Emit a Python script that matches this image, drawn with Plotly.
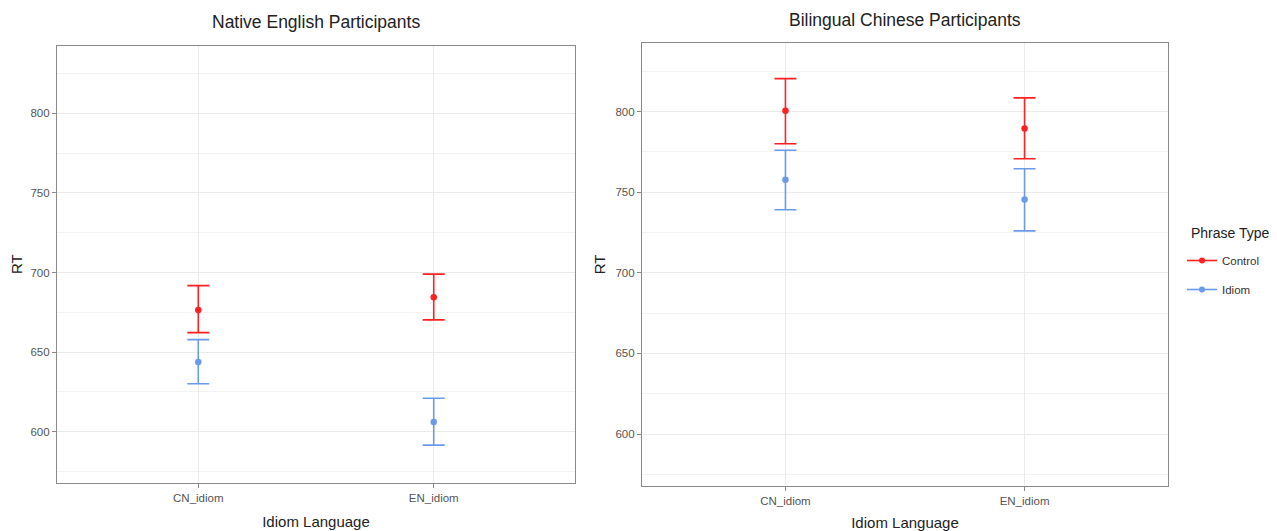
import plotly.graph_objects as go

categories = ["CN_idiom", "EN_idiom"]
phrase_types = ["Control", "Idiom"]
colors = {"Control": "#FF2020", "Idiom": "#6A9AEA"}

# Native English participants
native_mean = {"Control": [676.5, 684.5], "Idiom": [643.8, 606.1]}
native_upper = {"Control": [691.8, 699.0], "Idiom": [657.9, 621.0]}
native_lower = {"Control": [662.3, 670.3], "Idiom": [630.2, 591.6]}

# Bilingual Chinese participants
biling_mean = {"Control": [800.5, 789.5], "Idiom": [757.7, 745.5]}
biling_upper = {"Control": [820.4, 808.5], "Idiom": [776.0, 764.5]}
biling_lower = {"Control": [780.0, 770.7], "Idiom": [739.1, 726.0]}

y_ticks = [600, 650, 700, 750, 800]
y_minor = [575, 625, 675, 725, 775, 825]
y_range = [568, 842.5]

panels = [
    ("Native English Participants", native_mean, native_upper, native_lower, "x", "y"),
    ("Bilingual Chinese Participants", biling_mean, biling_upper, biling_lower, "x2", "y2"),
]

W, H = 1269, 523  # page body has an 8px margin inside the 1277x531 window
FONT = "Liberation Sans, Arial, Helvetica, sans-serif"
fig = go.Figure()

for title, mean, upper, lower, xa, ya in panels:
    for pt in phrase_types:
        plus = [u - m for u, m in zip(upper[pt], mean[pt])]
        minus = [m - l for m, l in zip(mean[pt], lower[pt])]
        fig.add_trace(go.Scatter(
            x=categories, y=mean[pt], mode="markers", xaxis=xa, yaxis=ya,
            marker=dict(color=colors[pt], size=6.5),
            error_y=dict(type="data", array=plus, arrayminus=minus, visible=True,
                         color=colors[pt], thickness=1.6, width=11),
            showlegend=False, name=pt,
        ))

for pt in phrase_types:
    fig.add_trace(go.Scatter(
        x=[None], y=[None], mode="lines+markers", name=pt, legendgroup=pt,
        line=dict(color=colors[pt], width=1.6),
        marker=dict(color=colors[pt], size=6), xaxis="x2", yaxis="y2",
    ))

xcommon = dict(
    type="category", range=[-0.6, 1.6], showgrid=True, gridcolor="#ebebeb", gridwidth=1,
    showline=True, mirror=True, linecolor="#8a8a8a", linewidth=1.2,
    ticks="outside", ticklen=4, tickcolor="#8a8a8a",
    tickfont=dict(family=FONT, size=11.5, color="#555555"),
    title=dict(text="Idiom Language", font=dict(family=FONT, size=15, color="#222222"), standoff=13),
    zeroline=False, fixedrange=True,
)
ycommon = dict(
    range=y_range, tickvals=y_ticks, showgrid=True, gridcolor="#ebebeb", gridwidth=1.2,
    minor=dict(tickvals=y_minor, showgrid=True, gridcolor="#f3f3f3", gridwidth=1),
    showline=True, mirror=True, linecolor="#8a8a8a", linewidth=1.2,
    ticks="outside", ticklen=4, tickcolor="#8a8a8a",
    tickfont=dict(family=FONT, size=11.5, color="#555555"),
    title=dict(text="RT", font=dict(family=FONT, size=15, color="#222222"), standoff=6),
    zeroline=False, fixedrange=True,
)

def px_x(a, b):
    return [(a - 8) / W, (b - 8) / W]

def px_y(top, bottom):
    return [1 - (bottom - 8) / H, 1 - (top - 8) / H]

lx = px_x(57, 575)
rx = px_x(642, 1168)

fig.update_layout(
    width=W, height=H,
    margin=dict(l=0, r=0, t=0, b=0),
    paper_bgcolor="white", plot_bgcolor="white",
    font=dict(family=FONT),
    xaxis=dict(xcommon, domain=lx, anchor="y"),
    yaxis=dict(ycommon, domain=px_y(45.7, 482.7), anchor="x"),
    xaxis2=dict(xcommon, domain=rx, anchor="y2"),
    yaxis2=dict(ycommon, domain=px_y(43, 485.7), anchor="x2"),
    legend=dict(
        font=dict(family=FONT, size=11.5, color="#333333"),
        x=(1182 - 8) / W, y=1 - (246 - 8) / H, xanchor="left", yanchor="top",
        bgcolor="rgba(0,0,0,0)", itemwidth=30, tracegroupgap=10,
    ),
    annotations=[
        dict(text="Native English Participants", x=sum(lx) / 2, y=1 - (22 - 8) / H,
             xref="paper", yref="paper", showarrow=False, xanchor="center", yanchor="middle",
             font=dict(family=FONT, size=17.5, color="#222222")),
        dict(text="Bilingual Chinese Participants", x=sum(rx) / 2, y=1 - (20 - 8) / H,
             xref="paper", yref="paper", showarrow=False, xanchor="center", yanchor="middle",
             font=dict(family=FONT, size=17.5, color="#222222")),
        dict(text="Phrase Type", x=(1191 - 8) / W, y=1 - (233 - 8) / H,
             xref="paper", yref="paper", showarrow=False, xanchor="left", yanchor="middle",
             xshift=-2, font=dict(family=FONT, size=14, color="#222222")),
    ],
)

fig.write_html("out.html")
